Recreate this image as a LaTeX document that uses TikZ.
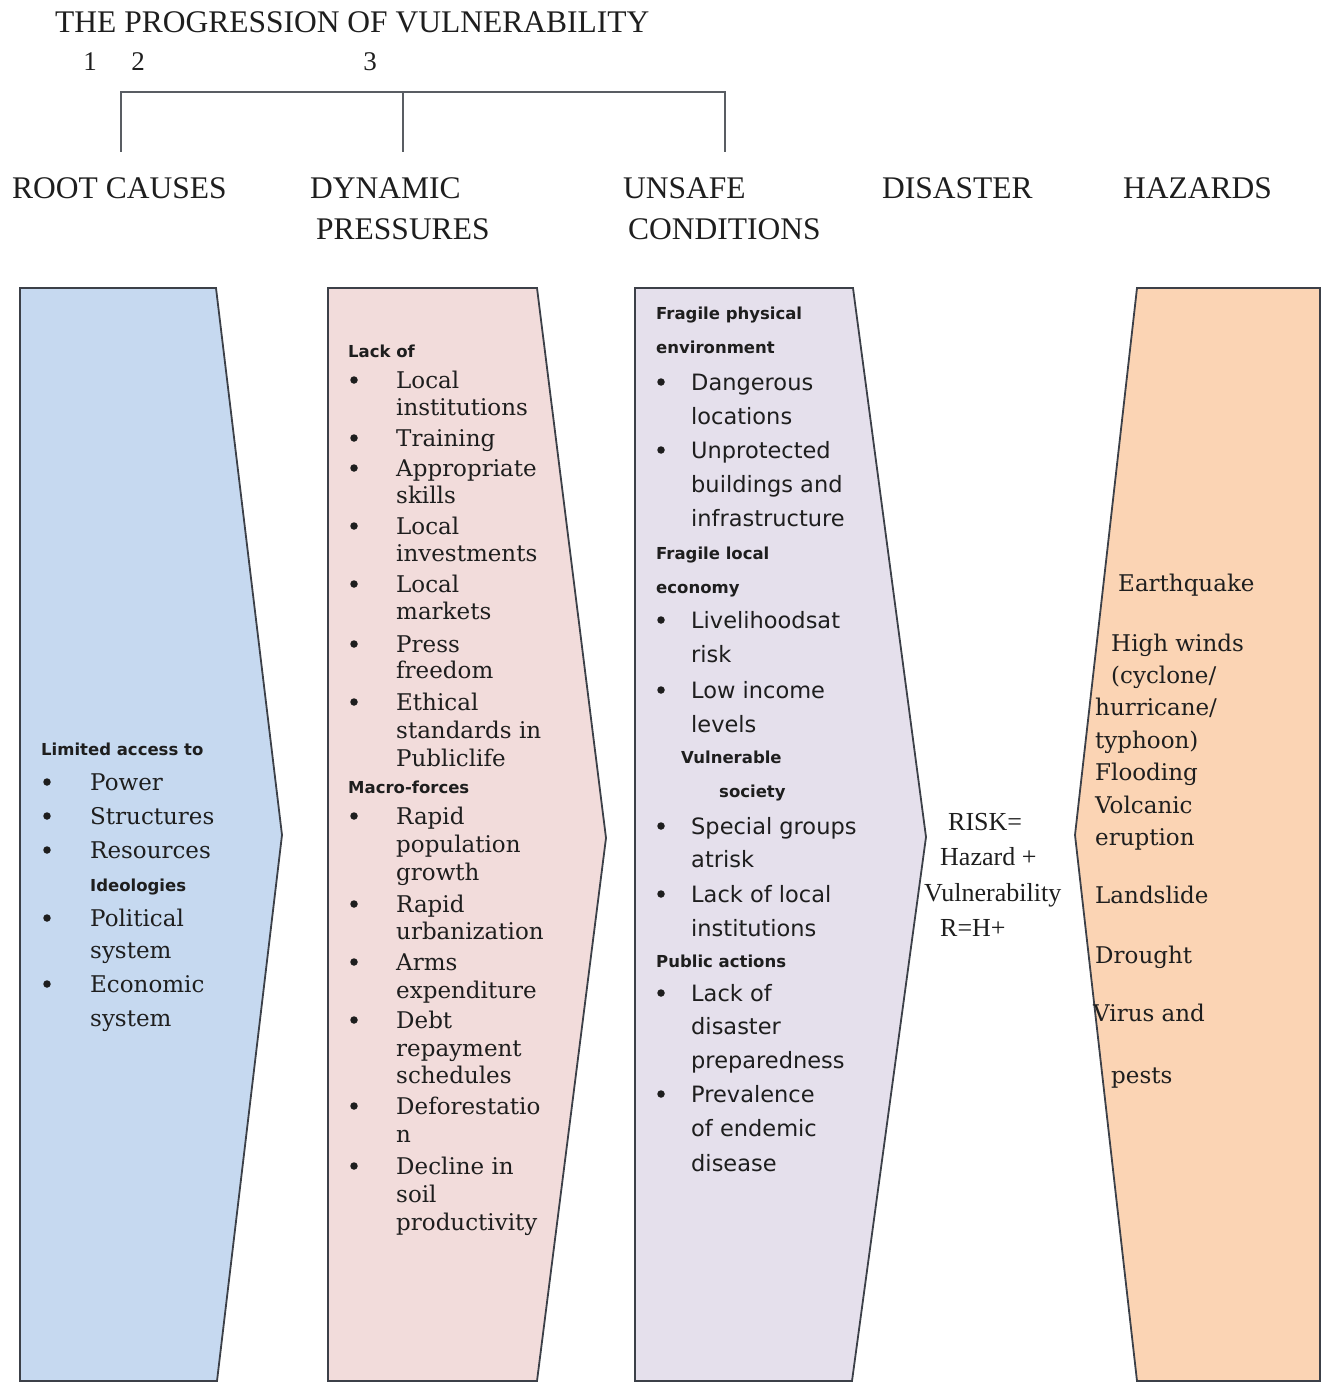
\documentclass[tikz,border=0pt]{standalone}
\usepackage{fontspec}
\setmainfont{Liberation Serif}
\newfontfamily\bodyserif{DejaVu Serif}
\newfontfamily\bodysans{DejaVu Sans}
\definecolor{bluefill}{HTML}{C6D9F0}
\definecolor{pinkfill}{HTML}{F2DCDB}
\definecolor{purplefill}{HTML}{E5E0EC}
\definecolor{orangefill}{HTML}{FBD4B4}
\definecolor{edge}{HTML}{3C4048}
\definecolor{ink}{HTML}{1E1E1E}
\begin{document}
\begin{tikzpicture}[x=1pt,y=-1pt,
  every node/.style={inner sep=0pt,text=ink},
  ttl/.style={anchor=west,font=\fontsize{31.5}{36}\selectfont,text height=22pt,text depth=0pt},
  num/.style={font=\fontsize{27}{30}\selectfont},
  hdr/.style={anchor=west,font=\fontsize{31.5}{36}\selectfont,text height=22pt,text depth=0pt},
  sitem/.style={anchor=west,font=\bodyserif\fontsize{23}{28}\selectfont,text height=14pt,text depth=3pt,yshift=-3pt},
  pitem/.style={anchor=west,font=\bodysans\fontsize{22.5}{26}\selectfont,text height=14pt,text depth=3pt,yshift=-3pt},
  lbl/.style={anchor=west,font=\bodysans\bfseries\fontsize{16.5}{20}\selectfont,text height=10pt,text depth=2pt,yshift=-2pt},
  bul/.style={circle,fill=ink,minimum size=7.5pt},
  risk/.style={anchor=west,font=\fontsize{26}{30}\selectfont,text height=17pt,text depth=0pt},
  arrowbox/.style={draw=edge,line width=1.8pt,line join=miter},
  brk/.style={draw=edge!85,line width=1.8pt}
]
\useasboundingbox (0,0) rectangle (1325,1383);
% shapes
\draw[arrowbox,fill=bluefill] (20,288) -- (216,288) -- (282,835) -- (217,1381) -- (20,1381) -- cycle;
\draw[arrowbox,fill=pinkfill] (328,288) -- (537,288) -- (606,838) -- (537,1381) -- (328,1381) -- cycle;
\draw[arrowbox,fill=purplefill] (635,288) -- (853,288) -- (926,837) -- (852,1381) -- (635,1381) -- cycle;
\draw[arrowbox,fill=orangefill] (1137,288) -- (1320,288) -- (1320,1381) -- (1137,1381) -- (1075,835) -- cycle;

% title and numbers
\node[ttl] (title) at (55,22) {THE PROGRESSION OF VULNERABILITY};
\node[num] (n1) at (90,62) {1};
\node[num] (n2) at (138,62) {2};
\node[num] (n3) at (370,62) {3};

% headers
\node[hdr] (h1) at (12,188) {ROOT CAUSES};
\node[hdr] (h2a) at (310,188) {DYNAMIC};
\node[hdr] (h2b) at (316,228) {PRESSURES};
\node[hdr] (h3a) at (623,188) {UNSAFE};
\node[hdr] (h3b) at (628,228) {CONDITIONS};
\node[hdr] (h4) at (882,188) {DISASTER};
\node[hdr] (h5) at (1123,188) {HAZARDS};

% bracket
\coordinate (bA) at (121,92);
\coordinate (bB) at (403,92);
\coordinate (bC) at (725,92);
\coordinate (bAd) at (121,152);
\coordinate (bBd) at (403,152);
\coordinate (bCd) at (725,152);
\draw[brk] (bAd) -- (bA) -- (bC) -- (bCd);
\draw[brk] (bB) -- (bBd);

% blue box
\node[lbl] (bl1) at (41,749) {Limited access to};
\node[lbl] (bl2) at (90,885) {Ideologies};
\foreach \y/\t [count=\i] in {782/Power,816/Structures,850/Resources,918/Political,950/system,984/Economic,1018/system}
  \node[sitem] (bt\i) at (90,\y) {\t};
\foreach \y [count=\i] in {782,816,850,918,984}
  \node[bul] (bb\i) at (47,\y) {};

% pink box
\node[lbl] (pl1) at (348,351) {Lack of};
\node[lbl] (pl2) at (348,787) {Macro-forces};
\foreach \y/\t [count=\i] in {380/Local,407/institutions,438/Training,468/Appropriate,495/skills,526/Local,553/investments,584/Local,611/markets,644/Press,670/freedom,702/Ethical,730/standards in,758/Publiclife,816/Rapid,844/population,872/growth,904/Rapid,931/urbanization,962/Arms,990/expenditure,1020/Debt,1048/repayment,1075/schedules,1106/Deforestatio,1134/n,1166/Decline in,1194/soil,1222/productivity}
  \node[sitem] (pt\i) at (396,\y) {\t};
\foreach \y [count=\i] in {380,438,468,526,584,644,702,816,904,962,1020,1106,1166}
  \node[bul] (pb\i) at (354,\y) {};

% purple box
\node[lbl] (ul1) at (656,313) {Fragile physical};
\node[lbl] (ul2) at (656,347) {environment};
\node[lbl] (ul3) at (656,553) {Fragile local};
\node[lbl] (ul4) at (656,587) {economy};
\node[lbl] (ul5) at (681,757) {Vulnerable};
\node[lbl] (ul6) at (719,791) {society};
\node[lbl] (ul7) at (656,961) {Public actions};
\foreach \y/\t [count=\i] in {382/Dangerous,416/locations,450/Unprotected,484/buildings and,518/infrastructure,620/Livelihoodsat,654/risk,690/Low income,724/levels,826/Special groups,859/atrisk,894/Lack of local,928/institutions,993/Lack of,1026/disaster,1060/preparedness,1094/Prevalence,1128/of endemic,1163/disease}
  \node[pitem] (ut\i) at (691,\y) {\t};
\foreach \y [count=\i] in {382,450,620,690,826,894,993,1094}
  \node[bul] (ub\i) at (661,\y) {};

% risk
\node[risk] (r1) at (948,822) {RISK=};
\node[risk] (r2) at (940,857) {Hazard +};
\node[risk] (r3) at (924,893) {Vulnerability};
\node[risk] (r4) at (940,928) {R=H+};

% hazards
\node[sitem] (z1) at (1118,583) {Earthquake};
\node[sitem] (z2) at (1111,643) {High winds};
\node[sitem] (z3) at (1111,675) {(cyclone/};
\node[sitem] (z4) at (1095,707) {hurricane/};
\node[sitem] (z5) at (1095,740) {typhoon)};
\node[sitem] (z6) at (1095,772) {Flooding};
\node[sitem] (z7) at (1095,805) {Volcanic};
\node[sitem] (z8) at (1095,837) {eruption};
\node[sitem] (z9) at (1095,895) {Landslide};
\node[sitem] (z10) at (1095,955) {Drought};
\node[sitem] (z11) at (1093,1013) {Virus and};
\node[sitem] (z12) at (1111,1075) {pests};
\end{tikzpicture}
\end{document}
